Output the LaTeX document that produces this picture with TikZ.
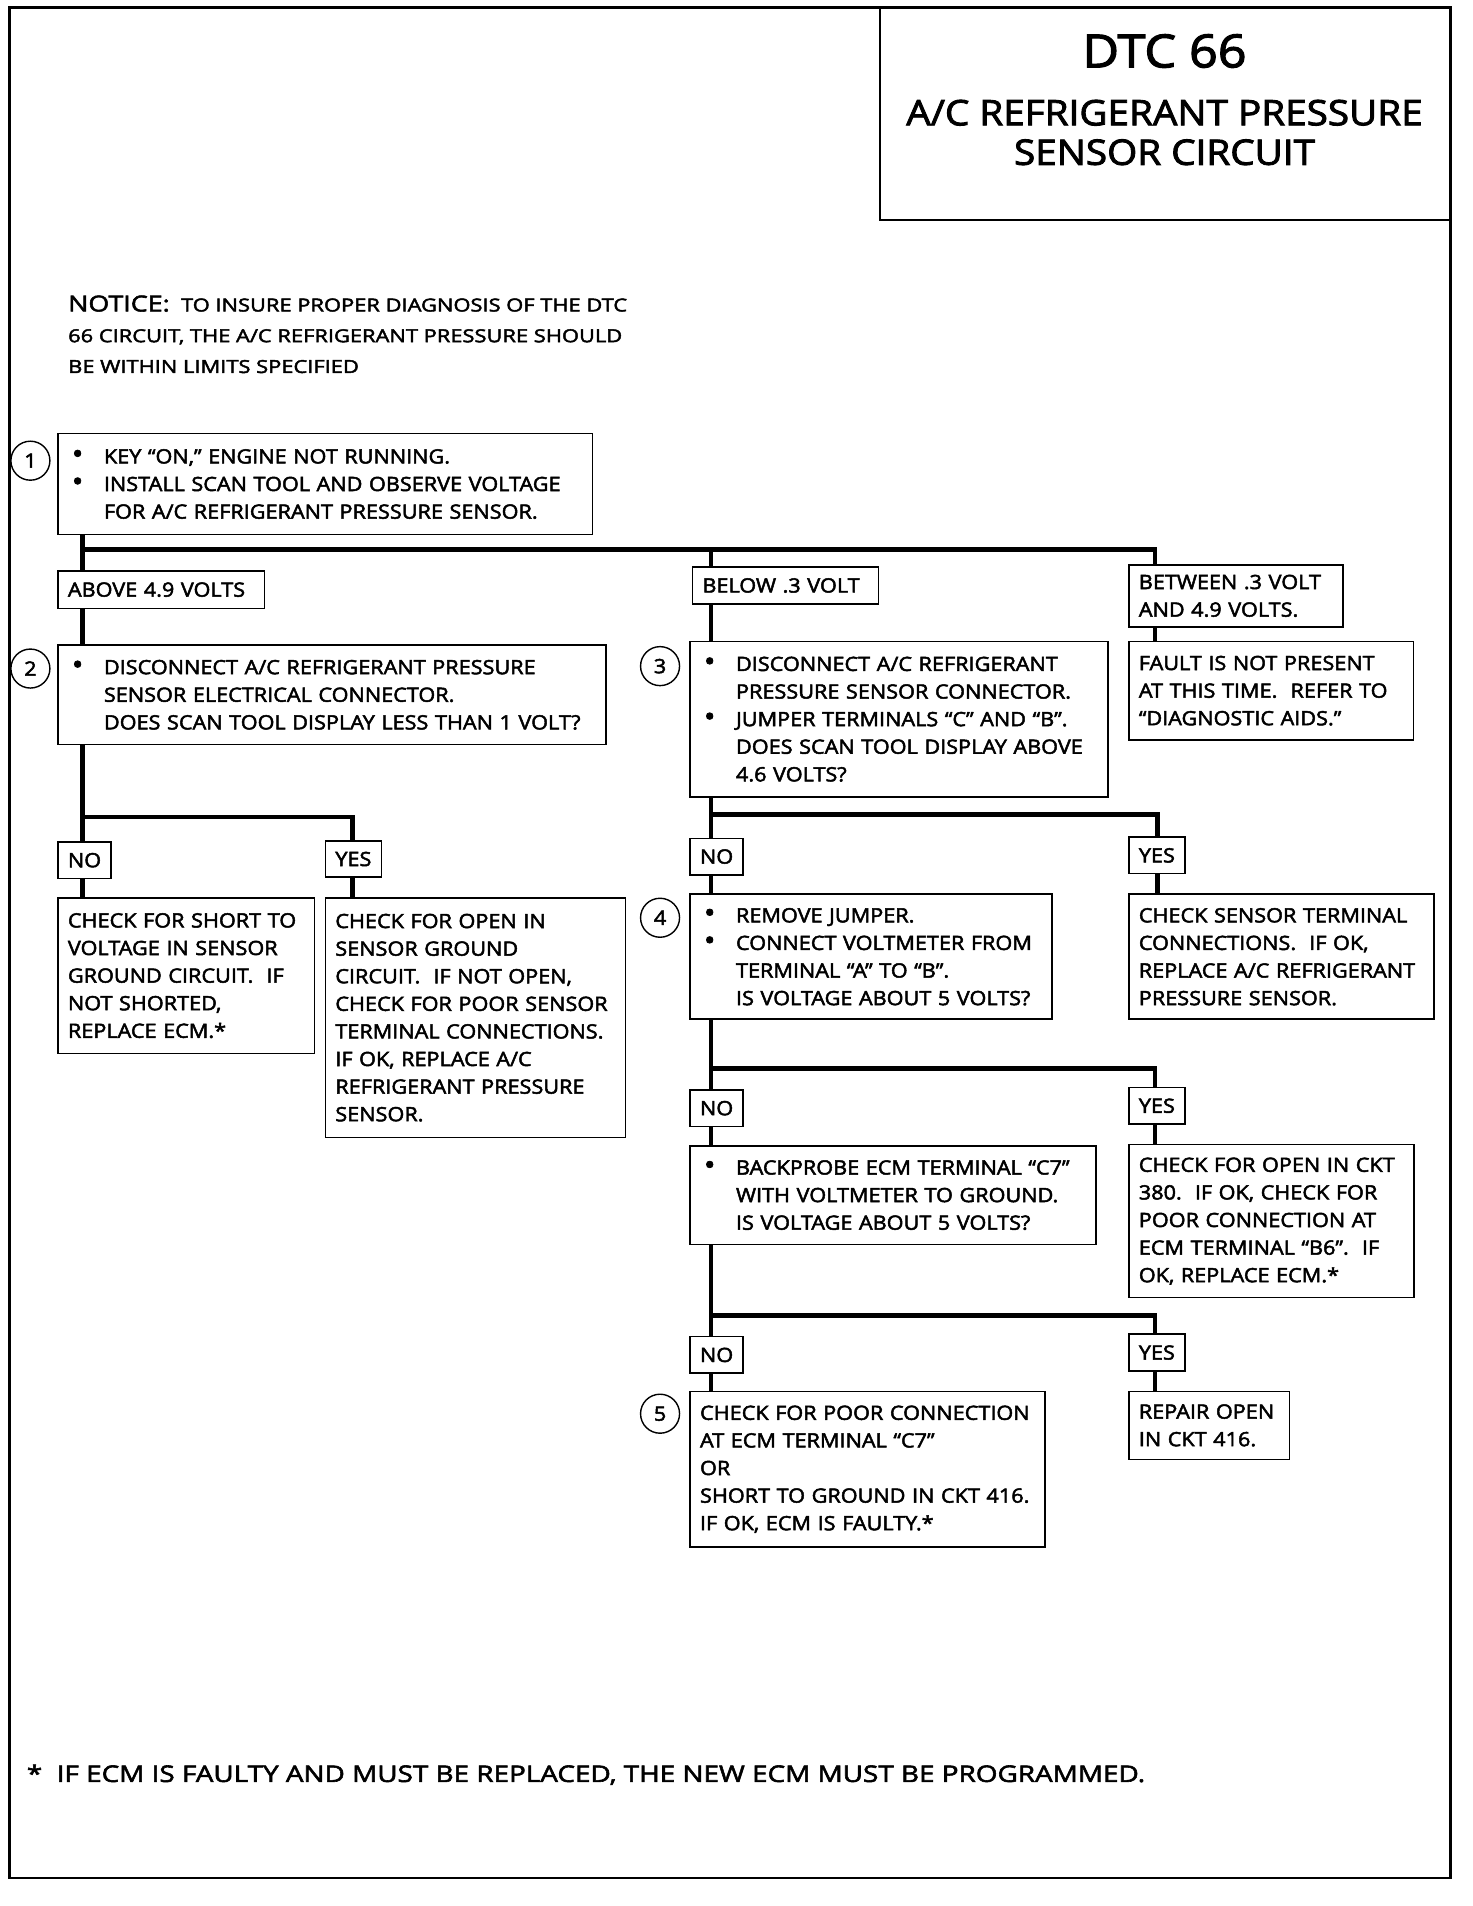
\documentclass[tikz,border=0pt]{standalone}
\usepackage{fontspec}
\setmainfont{Open Sans}[FakeStretch=1.1, FakeBold=2.5]
\newfontfamily\widefont{Open Sans}[FakeStretch=1.22, FakeBold=2.5]
\usetikzlibrary{positioning}
\tikzset{
  stepbox/.style={
    draw,
    line width=0.9pt,
    anchor=north west,
    align=left,
    inner xsep=0.2cm,
    inner ysep=0pt,
    font=\fontsize{11.2}{15.7}\selectfont
  },
  answer/.style={
    draw,
    line width=0.9pt,
    anchor=north west,
    inner xsep=0.2cm,
    inner ysep=0pt,
    minimum height=0.73cm,
    font=\fontsize{11.2}{13}\selectfont
  },
  stepnum/.style={
    draw,
    circle,
    line width=0.8pt,
    minimum size=0.78cm,
    inner sep=0pt,
    font=\fontsize{11.2}{13}\selectfont
  },
  wire/.style={
    line width=2.6pt
  }
}
\newcommand{\bul}{\hspace*{0.08cm}\makebox[0.64cm][l]{\scalebox{1.4}{\textbullet}}}
\newcommand{\ind}{\hspace*{0.72cm}}

\begin{document}
\begin{tikzpicture}[x=0.0243cm, y=-0.0243cm]
  \useasboundingbox (0,0) rectangle (1211,1568);
  % page frame and title block
  \draw[line width=1.6pt] (8,6) rectangle (1193,1545);
  \draw[line width=1.2pt] (724,6) -- (724,181) -- (1193,181);
  \node[font=\fontsize{26}{30}\selectfont] (dtc) at (958,42) {DTC 66};
  \node[font=\fontsize{20}{22.5}\selectfont, align=center] (title) at (958,109)
    {A/C REFRIGERANT PRESSURE\\SENSOR CIRCUIT};

  \node[anchor=north west, align=left, font=\widefont\fontsize{10.2}{17.5}\selectfont] (notice) at (51,238)
    {{\fontsize{12.5}{15}\selectfont NOTICE:}\ \ TO INSURE PROPER DIAGNOSIS OF THE DTC\\
     66 CIRCUIT, THE A/C REFRIGERANT PRESSURE SHOULD\\
     BE WITHIN LIMITS SPECIFIED};

  % step 1
  \node[stepnum] (numone) at (25,379) {1};
  \node[stepbox, text width=10.29cm, minimum height=2.02cm] (stepone) at (47,356)
    {\bul KEY “ON,” ENGINE NOT RUNNING.\\
     \bul INSTALL SCAN TOOL AND OBSERVE VOLTAGE\\
     \ind FOR A/C REFRIGERANT PRESSURE SENSOR.};

  \node[stepbox, text width=3.73cm, minimum height=0.75cm] (above) at (47,469) {ABOVE 4.9 VOLTS};
  \node[stepbox, text width=3.32cm, minimum height=0.73cm] (below) at (569,466) {BELOW .3 VOLT};
  \node[stepbox, text width=3.88cm, minimum height=1.24cm] (between) at (928,464)
    {BETWEEN .3 VOLT\\AND 4.9 VOLTS.};

  % step 2
  \node[stepnum] (numtwo) at (25,550) {2};
  \node[stepbox, text width=10.56cm, minimum height=1.99cm] (steptwo) at (47,530)
    {\bul DISCONNECT A/C REFRIGERANT PRESSURE\\
     \ind SENSOR ELECTRICAL CONNECTOR.\\
     \ind DOES SCAN TOOL DISPLAY LESS THAN 1 VOLT?};

  % step 3
  \node[stepnum] (numthree) at (543,548) {3};
  \node[stepbox, text width=7.96cm, minimum height=3.11cm] (stepthree) at (567,527)
    {\bul DISCONNECT A/C REFRIGERANT\\
     \ind PRESSURE SENSOR CONNECTOR.\\
     \bul JUMPER TERMINALS “C” AND “B”.\\
     \ind DOES SCAN TOOL DISPLAY ABOVE\\
     \ind 4.6 VOLTS?};
  \node[stepbox, text width=5.29cm, minimum height=1.97cm] (fault) at (928,527)
    {FAULT IS NOT PRESENT\\AT THIS TIME.\ \ REFER TO\\“DIAGNOSTIC AIDS.”};

  % answers to step 2
  \node[answer] (notwo) at (47,692) {NO};
  \node[answer] (yestwo) at (267,691) {YES};
  \node[stepbox, text width=4.73cm, minimum height=3.11cm] (shortchk) at (47,738)
    {CHECK FOR SHORT TO\\VOLTAGE IN SENSOR\\GROUND CIRCUIT.\ \ IF\\NOT SHORTED,\\REPLACE ECM.*};
  \node[stepbox, text width=5.60cm, minimum height=4.79cm] (openchk) at (267,738)
    {CHECK FOR OPEN IN\\SENSOR GROUND\\CIRCUIT.\ \ IF NOT OPEN,\\CHECK FOR POOR SENSOR\\
     TERMINAL CONNECTIONS.\\IF OK, REPLACE A/C\\REFRIGERANT PRESSURE\\SENSOR.};

  % answers to step 3, step 4
  \node[answer] (nothree) at (567,689) {NO};
  \node[answer] (yesthree) at (928,688) {YES};
  \node[stepnum] (numfour) at (543,755) {4};
  \node[stepbox, text width=6.84cm, minimum height=2.50cm] (stepfour) at (567,735)
    {\bul REMOVE JUMPER.\\
     \bul CONNECT VOLTMETER FROM\\
     \ind TERMINAL “A” TO “B”.\\
     \ind IS VOLTAGE ABOUT 5 VOLTS?};
  \node[stepbox, text width=5.70cm, minimum height=2.50cm] (termchk) at (928,735)
    {CHECK SENSOR TERMINAL\\CONNECTIONS.\ \ IF OK,\\REPLACE A/C REFRIGERANT\\PRESSURE SENSOR.};

  % answers to step 4
  \node[answer] (nofour) at (567,896) {NO};
  \node[answer] (yesfour) at (928,894) {YES};
  \node[stepbox, text width=7.72cm, minimum height=1.97cm] (backprobe) at (567,942)
    {\bul BACKPROBE ECM TERMINAL “C7”\\
     \ind WITH VOLTMETER TO GROUND.\\
     \ind IS VOLTAGE ABOUT 5 VOLTS?};
  \node[stepbox, text width=5.30cm, minimum height=3.06cm] (cktchk) at (928,941)
    {CHECK FOR OPEN IN CKT\\380.\ \ IF OK, CHECK FOR\\POOR CONNECTION AT\\ECM TERMINAL “B6”.\ \ IF\\OK, REPLACE ECM.*};

  % answers to backprobe, step 5
  \node[answer] (nofive) at (567,1099) {NO};
  \node[answer] (yesfive) at (928,1097) {YES};
  \node[stepnum] (numfive) at (543,1163) {5};
  \node[stepbox, text width=6.70cm, minimum height=3.11cm] (stepfive) at (567,1144)
    {CHECK FOR POOR CONNECTION\\AT ECM TERMINAL “C7”\\OR\\SHORT TO GROUND IN CKT 416.\\IF OK, ECM IS FAULTY.*};
  \node[stepbox, text width=2.81cm, minimum height=1.36cm] (repair) at (928,1144)
    {REPAIR OPEN\\IN CKT 416.};

  \node[anchor=west, font=\widefont\fontsize{13}{14}\selectfont] (footnote) at (17,1460)
    {*\ \ IF ECM IS FAULTY AND MUST BE REPLACED, THE NEW ECM MUST BE PROGRAMMED.};

  % split points
  \coordinate (splitone) at (68,452);
  \coordinate (splitonemid) at (585,452);
  \coordinate (splitoneright) at (950,452);
  \coordinate (splittwo) at (68,672);
  \coordinate (splittwoyes) at (290,672);
  \coordinate (splitthree) at (585,670);
  \coordinate (splitthreeyes) at (952,670);
  \coordinate (splitfour) at (585,879);
  \coordinate (splitfouryes) at (950,879);
  \coordinate (splitfive) at (585,1082);
  \coordinate (splitfiveyes) at (950,1082);

  % connectors
  \draw[wire] (stepone.south -| splitone) -- (above.north -| splitone);
  \draw[wire] (splitone) -- (splitoneright) -- (between.north -| splitoneright);
  \draw[wire] (splitonemid) -- (below.north -| splitonemid);
  \draw[wire] (above.south -| splitone) -- (steptwo.north -| splitone);
  \draw[wire] (below.south -| splitonemid) -- (stepthree.north -| splitonemid);
  \draw[wire] (between.south -| splitoneright) -- (fault.north -| splitoneright);

  \draw[wire] (steptwo.south -| splittwo) -- (notwo.north -| splittwo);
  \draw[wire] (splittwo) -- (splittwoyes) -- (yestwo.north -| splittwoyes);
  \draw[wire] (notwo.south -| splittwo) -- (shortchk.north -| splittwo);
  \draw[wire] (yestwo.south -| splittwoyes) -- (openchk.north -| splittwoyes);

  \draw[wire] (stepthree.south -| splitthree) -- (nothree.north -| splitthree);
  \draw[wire] (splitthree) -- (splitthreeyes) -- (yesthree.north -| splitthreeyes);
  \draw[wire] (nothree.south -| splitthree) -- (stepfour.north -| splitthree);
  \draw[wire] (yesthree.south -| splitthreeyes) -- (termchk.north -| splitthreeyes);

  \draw[wire] (stepfour.south -| splitfour) -- (nofour.north -| splitfour);
  \draw[wire] (splitfour) -- (splitfouryes) -- (yesfour.north -| splitfouryes);
  \draw[wire] (nofour.south -| splitfour) -- (backprobe.north -| splitfour);
  \draw[wire] (yesfour.south -| splitfouryes) -- (cktchk.north -| splitfouryes);

  \draw[wire] (backprobe.south -| splitfive) -- (nofive.north -| splitfive);
  \draw[wire] (splitfive) -- (splitfiveyes) -- (yesfive.north -| splitfiveyes);
  \draw[wire] (nofive.south -| splitfive) -- (stepfive.north -| splitfive);
  \draw[wire] (yesfive.south -| splitfiveyes) -- (repair.north -| splitfiveyes);
\end{tikzpicture}
\end{document}
